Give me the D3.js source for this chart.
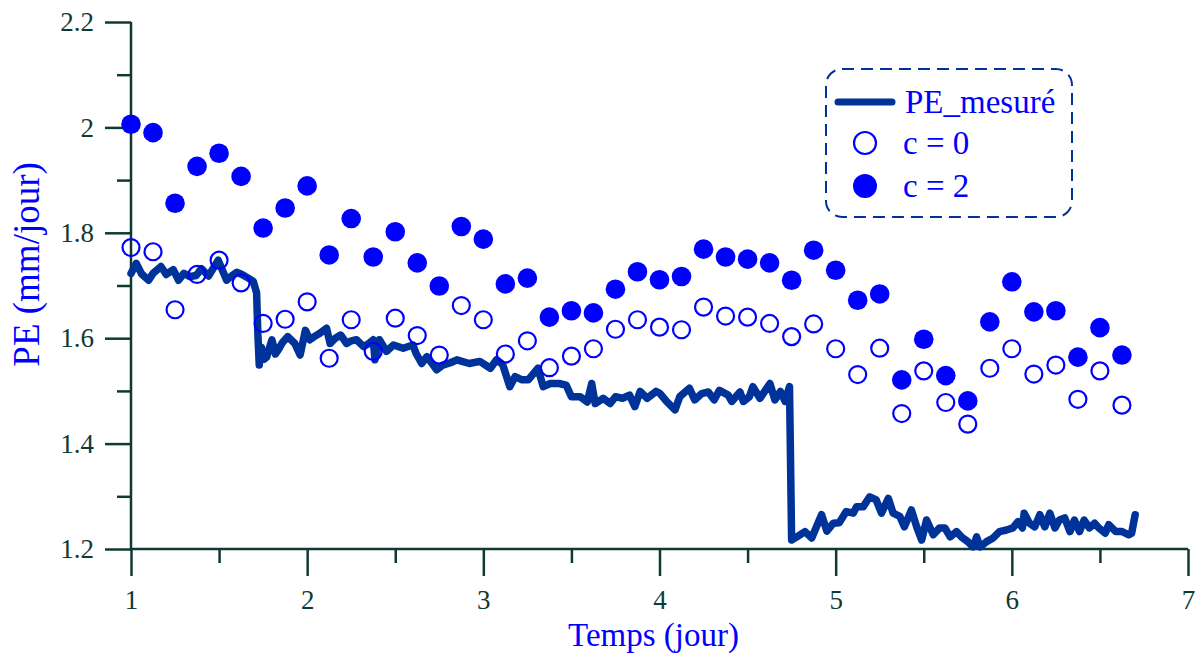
<!DOCTYPE html>
<html lang="fr">
<head>
    <meta charset="UTF-8">
    <script src="https://cdn.jsdelivr.net/npm/d3@7"></script>
    <title>PE mesuré vs simulé</title>
    <style>
        body { margin: 0; background: white; }
        svg text { font-family: "Liberation Serif", "Times New Roman", serif; }
    </style>
</head>
<body>
    <div id="chart"></div>

    <script>
        // Sizes
        const W = 1202, H = 664;
        const axisColor = "#0f3a32";
        const lineColor = "#003399";
        const dotColor = "#0000ff";

        // Simulated PE, one point every 3 h (days 1 -> 6.625)
        const tSim = [1, 1.125, 1.25, 1.375, 1.5, 1.625, 1.75, 1.875, 2, 2.125, 2.25, 2.375,
            2.5, 2.625, 2.75, 2.875, 3, 3.125, 3.25, 3.375, 3.5, 3.625, 3.75, 3.875,
            4, 4.125, 4.25, 4.375, 4.5, 4.625, 4.75, 4.875, 5, 5.125, 5.25, 5.375,
            5.5, 5.625, 5.75, 5.875, 6, 6.125, 6.25, 6.375, 6.5, 6.625];
        const peC0 = [1.772, 1.764, 1.654, 1.721, 1.748, 1.705, 1.628, 1.636, 1.669, 1.562, 1.635, 1.575,
            1.638, 1.605, 1.568, 1.662, 1.635, 1.570, 1.595, 1.544, 1.566, 1.580, 1.617, 1.635,
            1.621, 1.616, 1.659, 1.642, 1.640, 1.628, 1.603, 1.627, 1.580, 1.531, 1.581, 1.457,
            1.538, 1.478, 1.437, 1.543, 1.580, 1.532, 1.549, 1.484, 1.538, 1.473];
        const peC2 = [2.006, 1.990, 1.856, 1.926, 1.951, 1.907, 1.809, 1.847, 1.889, 1.758, 1.827, 1.754,
            1.802, 1.743, 1.699, 1.812, 1.788, 1.703, 1.714, 1.640, 1.652, 1.648, 1.693, 1.726,
            1.711, 1.717, 1.769, 1.754, 1.750, 1.743, 1.710, 1.767, 1.729, 1.672, 1.684, 1.521,
            1.598, 1.529, 1.481, 1.631, 1.707, 1.650, 1.652, 1.564, 1.620, 1.568];

        // Measured PE
        const tMes = [1, 1.03, 1.06, 1.10, 1.125, 1.17, 1.20, 1.24, 1.27, 1.30, 1.335, 1.37, 1.40, 1.44,
            1.495, 1.52, 1.543, 1.57, 1.60, 1.63, 1.666, 1.694, 1.713, 1.72, 1.728, 1.74, 1.755, 1.77,
            1.80, 1.82, 1.836, 1.86, 1.89, 1.93, 1.96, 1.99, 2.015, 2.04, 2.07, 2.11, 2.13, 2.16, 2.19,
            2.224, 2.25, 2.28, 2.32, 2.35, 2.375, 2.385, 2.41, 2.45, 2.49, 2.545, 2.60, 2.62, 2.65, 2.68,
            2.735, 2.77, 2.81, 2.85, 2.92, 2.98, 3.04, 3.075, 3.11, 3.15, 3.18, 3.22, 3.255, 3.31, 3.34,
            3.38, 3.43, 3.47, 3.50, 3.55, 3.59, 3.615, 3.635, 3.68, 3.72, 3.75, 3.79, 3.83, 3.86, 3.89,
            3.93, 3.98, 4.003, 4.04, 4.088, 4.115, 4.17, 4.20, 4.24, 4.277, 4.31, 4.34, 4.39, 4.41,
            4.457, 4.476, 4.51, 4.53, 4.57, 4.627, 4.655, 4.686, 4.713, 4.738, 4.75, 4.78, 4.826, 4.864,
            4.92, 4.95, 4.987, 5.02, 5.06, 5.10, 5.118, 5.156, 5.193, 5.23, 5.26, 5.299, 5.326, 5.364,
            5.39, 5.43, 5.46, 5.488, 5.516, 5.554, 5.59, 5.62, 5.65, 5.686, 5.714, 5.75, 5.78, 5.80,
            5.82, 5.857, 5.894, 5.93, 5.97, 6.006, 6.035, 6.06, 6.07, 6.10, 6.13, 6.159, 6.187, 6.216,
            6.245, 6.27, 6.30, 6.33, 6.355, 6.384, 6.41, 6.44, 6.47, 6.494, 6.53, 6.55, 6.59, 6.626,
            6.664, 6.68, 6.70];
        const peMes = [1.723, 1.742, 1.722, 1.710, 1.723, 1.736, 1.721, 1.730, 1.710, 1.723, 1.717, 1.719, 1.732, 1.718,
            1.748, 1.728, 1.710, 1.718, 1.725, 1.721, 1.714, 1.708, 1.686, 1.609, 1.549, 1.583, 1.560, 1.564,
            1.597, 1.570, 1.578, 1.592, 1.603, 1.590, 1.568, 1.615, 1.597, 1.603, 1.609, 1.619, 1.590, 1.600, 1.606,
            1.590, 1.595, 1.597, 1.584, 1.590, 1.597, 1.559, 1.597, 1.575, 1.587, 1.581, 1.587, 1.570, 1.552, 1.565,
            1.540, 1.549, 1.553, 1.559, 1.552, 1.556, 1.543, 1.559, 1.550, 1.508, 1.527, 1.521, 1.521, 1.543, 1.508,
            1.514, 1.514, 1.511, 1.489, 1.489, 1.479, 1.514, 1.476, 1.486, 1.476, 1.489, 1.486, 1.492, 1.470, 1.499,
            1.486, 1.499, 1.495, 1.480, 1.464, 1.489, 1.505, 1.483, 1.495, 1.498, 1.483, 1.501, 1.492, 1.480,
            1.498, 1.480, 1.489, 1.508, 1.486, 1.514, 1.483, 1.499, 1.480, 1.508, 1.217, 1.223, 1.233, 1.221,
            1.265, 1.234, 1.249, 1.250, 1.271, 1.268, 1.280, 1.280, 1.299, 1.293, 1.268, 1.296, 1.268, 1.262,
            1.242, 1.274, 1.242, 1.217, 1.255, 1.227, 1.240, 1.240, 1.223, 1.233, 1.223, 1.214, 1.204, 1.223,
            1.204, 1.214, 1.221, 1.233, 1.236, 1.240, 1.252, 1.240, 1.268, 1.249, 1.242, 1.265, 1.242, 1.268,
            1.240, 1.255, 1.259, 1.233, 1.255, 1.233, 1.255, 1.240, 1.249, 1.240, 1.230, 1.246, 1.233, 1.233,
            1.227, 1.230, 1.265];

        const xTicks = [1, 2, 3, 4, 5, 6, 7];
        const xMinor = [1.5, 2.5, 3.5, 4.5, 5.5, 6.5];
        const yTicks = [1.2, 1.4, 1.6, 1.8, 2, 2.2];
        const yMinor = [1.3, 1.5, 1.7, 1.9, 2.1];
        const legendLabels = ["PE_mesuré", "c = 0", "c = 2"];

        const svg = d3.select("#chart").append("svg")
            .attr("width", W)
            .attr("height", H);

        const x = d3.scaleLinear().domain([1, 7]).range([131, 1188]);
        const y = d3.scaleLinear().domain([1.2, 2.2]).range([549, 22]);

        /*--- Axes ---*/
        svg.append("g").attr("transform", `translate(0,${y(1.2)})`)
            .call(d3.axisBottom(x).tickValues(xMinor).tickSize(14).tickFormat(""));
        svg.append("g").attr("transform", `translate(0,${y(1.2)})`)
            .call(d3.axisBottom(x).tickValues(xTicks).tickSize(27).tickPadding(14)
                .tickFormat(d3.format("d")));

        svg.append("g").attr("transform", `translate(${x(1)},0)`)
            .call(d3.axisLeft(y).tickValues(yMinor).tickSize(14).tickFormat(""));
        svg.append("g").attr("transform", `translate(${x(1)},0)`)
            .call(d3.axisLeft(y).tickValues(yTicks).tickSize(26).tickPadding(11)
                .tickFormat(d => d3.format("")(+d.toFixed(1))));

        svg.selectAll(".domain").remove();
        svg.selectAll(".tick line").attr("stroke", axisColor).attr("stroke-width", 2.5);
        svg.selectAll(".tick text")
            .attr("fill", axisColor)
            .style("font-family", "Liberation Serif")
            .style("font-size", "27px");

        // axis lines drawn by hand so they cross like in the original
        svg.append("line")
            .attr("x1", x(1)).attr("x2", x(7))
            .attr("y1", y(1.2)).attr("y2", y(1.2))
            .attr("stroke", axisColor).attr("stroke-width", 2.5);
        svg.append("line")
            .attr("x1", x(1)).attr("x2", x(1))
            .attr("y1", y(2.2)).attr("y2", y(1.2))
            .attr("stroke", axisColor).attr("stroke-width", 2.5);

        // Axis titles
        svg.append("text")
            .attr("x", (x(1) + x(7)) / 2 - 6)
            .attr("y", 646)
            .attr("text-anchor", "middle")
            .attr("fill", dotColor)
            .style("font-size", "33px")
            .text("Temps (jour)");

        svg.append("text")
            .attr("transform", `translate(39,${y(1.74)}) rotate(-90)`)
            .attr("text-anchor", "middle")
            .attr("fill", dotColor)
            .style("font-size", "37px")
            .text("PE (mm/jour)");

        /*--- Measured line ---*/
        const mesData = tMes.map((t, i) => ({ t, v: peMes[i] }));
        svg.append("path")
            .datum(mesData)
            .attr("fill", "none")
            .attr("stroke", lineColor)
            .attr("stroke-width", 7.5)
            .attr("stroke-linejoin", "round")
            .attr("stroke-linecap", "round")
            .attr("d", d3.line().x(d => x(d.t)).y(d => y(d.v)));

        /*--- Simulated points ---*/
        svg.append("g").selectAll("circle")
            .data(tSim.map((t, i) => ({ t, v: peC0[i] })))
            .enter().append("circle")
            .attr("cx", d => x(d.t))
            .attr("cy", d => y(d.v))
            .attr("r", 8.5)
            .attr("fill", "none")
            .attr("stroke", dotColor)
            .attr("stroke-width", 2.2);

        svg.append("g").selectAll("circle")
            .data(tSim.map((t, i) => ({ t, v: peC2[i] })))
            .enter().append("circle")
            .attr("cx", d => x(d.t))
            .attr("cy", d => y(d.v))
            .attr("r", 9.8)
            .attr("fill", dotColor);

        /*--- Legend ---*/
        const leg = svg.append("g");
        leg.append("rect")
            .attr("x", 826).attr("y", 69)
            .attr("width", 246).attr("height", 148)
            .attr("rx", 16)
            .attr("fill", "white")
            .attr("stroke", lineColor)
            .attr("stroke-width", 2)
            .attr("stroke-dasharray", "12,7");

        leg.append("line")
            .attr("x1", 838).attr("x2", 892)
            .attr("y1", 102).attr("y2", 102)
            .attr("stroke", lineColor)
            .attr("stroke-width", 7)
            .attr("stroke-linecap", "round");
        leg.append("circle")
            .attr("cx", 865).attr("cy", 143).attr("r", 11)
            .attr("fill", "none").attr("stroke", dotColor).attr("stroke-width", 2.2);
        leg.append("circle")
            .attr("cx", 865).attr("cy", 186).attr("r", 12)
            .attr("fill", dotColor);

        leg.selectAll("text.lbl")
            .data(legendLabels)
            .enter().append("text")
            .attr("class", "lbl")
            .attr("x", (d, i) => i === 0 ? 905 : 903)
            .attr("y", (d, i) => [113, 154, 197][i])
            .attr("fill", dotColor)
            .style("font-size", "33px")
            .text(d => d);
    </script>
</body>
</html>
